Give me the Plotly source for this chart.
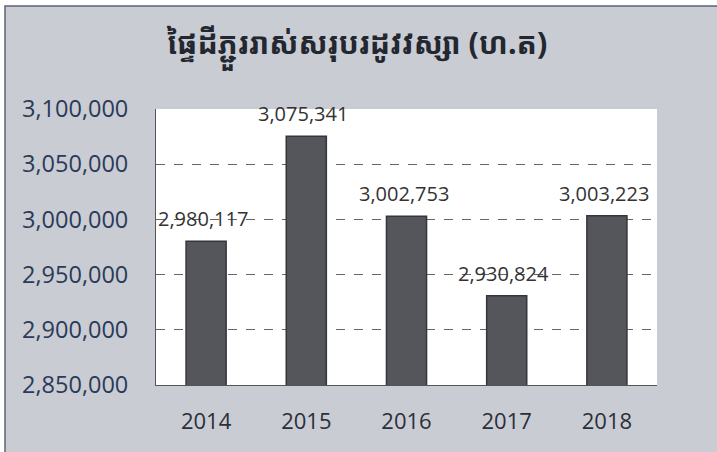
import plotly.graph_objects as go

years = ["2014", "2015", "2016", "2017", "2018"]
values = [2980117, 3075341, 3002753, 2930824, 3003223]
y_ticks = [2850000, 2900000, 2950000, 3000000, 3050000, 3100000]
title_text = "ផ្ទៃដីភ្ជួររាស់សរុបរដូវវស្សា (ហ.ត)"

L, R, T, B = 156, 60, 109, 67
W, H = 717, 452
pw, ph = W - L - R, H - T - B

fig = go.Figure()
fig.add_trace(go.Bar(
    x=years, y=values,
    marker=dict(color="#55565c", line=dict(color="#35363b", width=1.5)),
    width=0.4,
    hoverinfo="x+y",
))

for i, yv in enumerate(values):
    fig.add_annotation(
        x=i, y=yv, text=f"{yv:,}", showarrow=False,
        yanchor="bottom", yshift=7, xshift=-3,
        font=dict(family="Open Sans, sans-serif", size=20, color="#333333"),
    )

fig.add_annotation(
    xref="paper", yref="paper",
    x=(357 - L) / pw, y=(H - B - 47) / ph,
    text=title_text, showarrow=False, xanchor="center", yanchor="middle",
    font=dict(family="Noto Sans Khmer, Khmer OS, Noto Sans, sans-serif", size=30,
              color="#23272f", weight="bold"),
)

shapes = [
    dict(type="rect", xref="paper", yref="paper",
         x0=(5 - L) / pw, x1=(W + 20 - L) / pw,
         y0=(H - B - (H + 20)) / ph, y1=(H - B - 6) / ph,
         fillcolor="#c9ccd3", line=dict(color="#5c6472", width=1.5), layer="below"),
    dict(type="rect", xref="paper", yref="paper", x0=0, x1=1, y0=0, y1=1,
         fillcolor="#ffffff", line=dict(width=0), layer="below"),
]

fig.update_layout(
    width=W, height=H,
    margin=dict(l=L, r=R, t=T, b=B, pad=0, autoexpand=False),
    paper_bgcolor="#ffffff",
    plot_bgcolor="#ffffff",
    shapes=shapes,
    showlegend=False,
    bargap=0.6,
    xaxis=dict(
        type="category", range=[-0.5, 4.5], automargin=False,
        showgrid=False, showline=True, linecolor="#555555", linewidth=1,
        ticks="", ticklabelstandoff=17,
        tickfont=dict(family="Open Sans, sans-serif", size=22, color="#2a2f3a"),
        fixedrange=True,
    ),
    yaxis=dict(
        range=[2850000, 3100000], tickvals=y_ticks, automargin=False,
        ticktext=[f"{v:,}" for v in y_ticks],
        showgrid=True, gridcolor="#666666", griddash="dash", gridwidth=1,
        showline=True, linecolor="#555555", linewidth=1,
        zeroline=False, ticks="", ticklabelstandoff=22,
        tickfont=dict(family="Open Sans, sans-serif", size=23.5, color="#2b3a58"),
        fixedrange=True,
    ),
)

fig.write_html(
    "out.html",
    config={"displayModeBar": False},
    post_script="document.body.style.margin='0';document.body.style.overflow='hidden';",
)
